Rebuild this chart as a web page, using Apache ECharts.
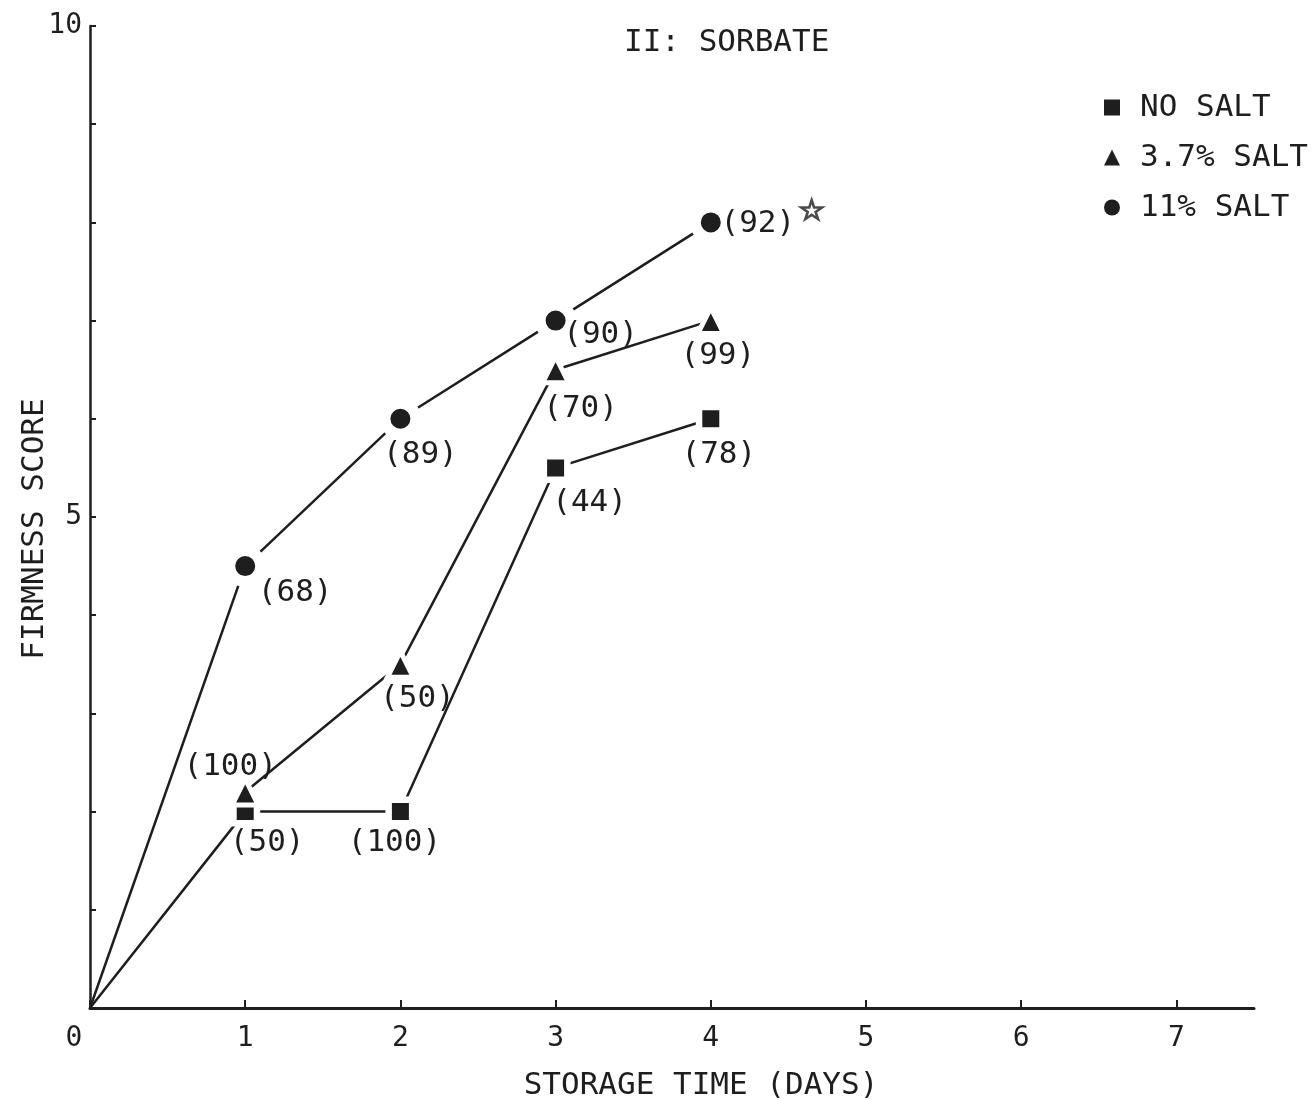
<!DOCTYPE html>
<html>
<head>
<meta charset="utf-8">
<script src="https://cdn.jsdelivr.net/npm/echarts@6/dist/echarts.min.js"></script>
<style>
  html, body { margin: 0; padding: 0; background: #ffffff; }
  #chart { width: 1314px; height: 1100px; }
</style>
</head>
<body>
<div id="chart"></div>
<script>
// Storage time (days) for each reading
const days = [0, 1, 2, 3, 4];

// Firmness scores per treatment (null = not measured)
const noSalt = [0, 2.0, 2.0, 5.5, 6.0];
const salt37 = [null, 2.2, 3.5, 6.5, 7.0];
const salt11 = [0, 4.5, 6.0, 7.0, 8.0];

// Percentages printed beside each point
const noSaltPct = [null, 50, 100, 44, 78];
const salt37Pct = [null, 100, 50, 70, 99];
const salt11Pct = [null, 68, 89, 90, 92];

const seriesNames = ['NO SALT', '3.7% SALT', '11% SALT'];
const chartTitle = 'II: SORBATE';
const xAxisName = 'STORAGE TIME (DAYS)';
const yAxisName = 'FIRMNESS SCORE';
const yTickLabels = { 5: '5', 10: '10' };

// Significance marker near the last 11% point
const starPoint = [4.65, 8.13];

// ---- styling ----
const INK = '#1e1e1e';
const FONT = 'DejaVu Sans Mono';
const FS = 31;

// label offsets (px) relative to each marker's centre
const noSaltOffsets = [null, [22, 31], [-6, 31], [34, 35], [8, 36]];
const salt37Offsets = [null, [-15, -25], [17, 35], [25, 39], [7, 35]];
const salt11Offsets = [null, [50, 27], [20, 36], [45, 14], [47, 2]];

function buildData(values, pcts, offsets) {
  const out = [];
  days.forEach((d, i) => {
    if (values[i] == null) return;
    const item = { value: [d, values[i]] };
    if (pcts[i] == null) {
      item.symbol = 'none';
      item.label = { show: false };
    } else {
      item.label = { show: true, formatter: '(' + pcts[i] + ')', offset: offsets[i] };
    }
    out.push(item);
  });
  return out;
}

// White marker borders leave a small break in the line around each point
function lineSeries(name, symbol, size, border, values, pcts, offsets) {
  return {
    type: 'line',
    name: name,
    data: buildData(values, pcts, offsets),
    symbol: symbol,
    symbolSize: size,
    showAllSymbol: true,
    itemStyle: { color: INK, borderColor: '#ffffff', borderWidth: border },
    lineStyle: { color: INK, width: 2.5 },
    label: {
      show: true,
      position: 'inside',
      fontFamily: FONT,
      fontSize: FS,
      color: INK
    },
    emphasis: { disabled: true },
    clip: false
  };
}

const chart = echarts.init(document.getElementById('chart'), null, { renderer: 'canvas' });

chart.setOption({
  animation: false,
  backgroundColor: '#ffffff',
  textStyle: { fontFamily: FONT, color: INK },
  title: {
    text: chartTitle,
    left: 619,
    top: 22,
    textStyle: { fontFamily: FONT, fontSize: FS, fontWeight: 'normal', color: INK }
  },
  legend: {
    orient: 'vertical',
    left: 1099,
    top: 87,
    itemWidth: 16,
    itemHeight: 16,
    itemGap: 19,
    selectedMode: false,
    itemStyle: { borderWidth: 0, color: INK },
    data: [
      { name: seriesNames[0], icon: 'rect' },
      { name: seriesNames[1], icon: 'triangle' },
      { name: seriesNames[2], icon: 'circle' }
    ],
    formatter: n => '{t|' + n + '}',
    textStyle: {
      rich: {
        t: { fontFamily: FONT, fontSize: FS, color: INK, lineHeight: 31, padding: [0, 0, 0, 15] }
      }
    }
  },
  grid: {
    left: 90, right: 60, top: 26, bottom: 92,
    containLabel: false,
    outerBoundsMode: 'none'
  },
  xAxis: {
    type: 'value',
    min: 0,
    max: 7.5,
    interval: 1,
    name: xAxisName,
    nameLocation: 'middle',
    nameGap: 62,
    nameMoveOverlap: false,
    nameTextStyle: { fontFamily: FONT, fontSize: FS, color: INK, padding: [0, 0, 0, 58] },
    axisLine: { show: true, lineStyle: { color: INK, width: 3 } },
    axisTick: { show: true, inside: true, length: 8, lineStyle: { color: INK, width: 2 } },
    axisLabel: {
      show: true,
      margin: 17,
      fontFamily: FONT,
      fontSize: 28,
      color: INK,
      showMaxLabel: false,
      formatter: v => (v === 0 ? '{z|0}' : (Number.isInteger(v) ? String(v) : '')),
      rich: { z: { fontFamily: FONT, fontSize: 28, color: INK, padding: [0, 32, 0, 0] } }
    },
    splitLine: { show: false }
  },
  yAxis: {
    type: 'value',
    min: 0,
    max: 10,
    interval: 1,
    name: yAxisName,
    nameLocation: 'middle',
    nameGap: 40,
    nameMoveOverlap: false,
    nameTextStyle: { fontFamily: FONT, fontSize: FS, color: INK, padding: [0, 24, 0, 0] },
    axisLine: { show: true, lineStyle: { color: INK, width: 2.5 } },
    axisTick: { show: true, inside: true, length: 6, lineStyle: { color: INK, width: 2 } },
    axisLabel: {
      show: true,
      margin: 8,
      fontFamily: FONT,
      fontSize: 28,
      color: INK,
      formatter: v => yTickLabels[v] || ''
    },
    splitLine: { show: false }
  },
  series: [
    lineSeries(seriesNames[0], 'rect', 23.5, 6.5, noSalt, noSaltPct, noSaltOffsets),
    lineSeries(seriesNames[1], 'triangle', 26, 5, salt37, salt37Pct, salt37Offsets),
    lineSeries(seriesNames[2], 'circle', 31, 11, salt11, salt11Pct, salt11Offsets),
    {
      type: 'scatter',
      name: 'star',
      data: [starPoint],
      symbol: 'path://M50,0 L61,35 L98,35 L68,57 L79,91 L50,70 L21,91 L32,57 L2,35 L39,35 Z',
      symbolSize: [21, 19],
      itemStyle: { color: '#ffffff', borderColor: INK, borderWidth: 2.5 },
      emphasis: { disabled: true },
      clip: false
    }
  ]
});
</script>
</body>
</html>
